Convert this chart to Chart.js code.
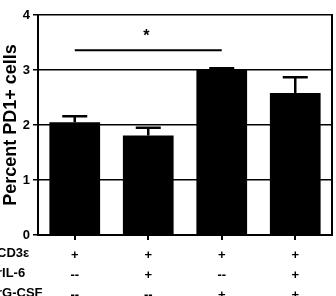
<!DOCTYPE html>
<html>
<head>
<meta charset="utf-8">
<script src="https://cdn.jsdelivr.net/npm/chart.js@4"></script>
<style>
  html, body { margin: 0; padding: 0; background: #fff; }
</style>
</head>
<body>
<canvas id="pd1Chart" width="336" height="296"></canvas>
<script>
const groups = ['A', 'B', 'C', 'D'];
const percentPD1 = [2.05, 1.81, 3.0, 2.58];
const semPD1 = [0.11, 0.14, 0.03, 0.29];
const rowNames = ['CD3\u03b5', 'rIL-6', 'rG-CSF'];
const cd3Row = ['+', '+', '+', '+'];
const il6Row = ['--', '+', '--', '+'];
const gcsfRow = ['--', '--', '+', '+'];
const yTicks = [0, 1, 2, 3, 4];
const sigPair = [0, 2];
const sigLevel = 3.36;
const sigMark = '*';

const FONT = 'Liberation Sans, Arial, sans-serif';
const rows = [cd3Row, il6Row, gcsfRow];

const extrasPlugin = {
    id: 'extras',
    afterDatasetsDraw(chart) {
        const ctx = chart.ctx;
        const x = chart.scales.x;
        const y = chart.scales.y;
        const area = chart.chartArea;
        ctx.save();
        ctx.strokeStyle = '#000';
        ctx.fillStyle = '#000';
        // error bars
        ctx.lineWidth = 2.5;
        percentPD1.forEach((v, i) => {
            const cx = x.getPixelForValue(i);
            const yTop = y.getPixelForValue(v + semPD1[i]);
            const yBar = y.getPixelForValue(v);
            ctx.beginPath();
            ctx.moveTo(cx, yBar);
            ctx.lineTo(cx, yTop);
            ctx.moveTo(cx - 12.5, yTop);
            ctx.lineTo(cx + 12.5, yTop);
            ctx.stroke();
        });
        // right border
        ctx.lineWidth = 2;
        ctx.beginPath();
        ctx.moveTo(area.right, area.top - 1);
        ctx.lineTo(area.right, area.bottom);
        ctx.stroke();
        // significance line
        const x1 = x.getPixelForValue(sigPair[0]);
        const x2 = x.getPixelForValue(sigPair[1]);
        const sy = y.getPixelForValue(sigLevel);
        ctx.lineWidth = 2;
        ctx.beginPath();
        ctx.moveTo(x1, sy);
        ctx.lineTo(x2, sy);
        ctx.stroke();
        ctx.font = 'bold 16px ' + FONT;
        ctx.textAlign = 'center';
        ctx.textBaseline = 'middle';
        ctx.fillText(sigMark, (x1 + x2) / 2 - 2, sy - 14);
        // row names
        ctx.font = 'bold 13px ' + FONT;
        ctx.textAlign = 'left';
        rowNames.forEach((name, r) => {
            ctx.fillText(name, -3, area.bottom + 18 + r * 20);
        });
        ctx.restore();
    }
};

new Chart(document.getElementById('pd1Chart'), {
    type: 'bar',
    data: {
        labels: groups,
        datasets: [{
            data: percentPD1,
            backgroundColor: '#000',
            borderWidth: 0,
            categoryPercentage: 1,
            barPercentage: 0.69
        }]
    },
    options: {
        responsive: false,
        animation: false,
        layout: { padding: { top: 15, right: 4, left: 0, bottom: 0 } },
        plugins: { legend: { display: false }, tooltip: { enabled: false } },
        scales: {
            x: {
                grid: { offset: false, drawOnChartArea: false, drawTicks: true, tickLength: 5, color: '#000', lineWidth: 2 },
                border: { color: '#000', width: 2 },
                ticks: {
                    padding: 5,
                    color: '#000',
                    font: { family: FONT, size: 13, weight: 'bold', lineHeight: 20 / 13 },
                    callback: (val, i) => rows.map(r => r[i])
                },
                afterFit: (scale) => { scale.height = 61; }
            },
            y: {
                min: 0,
                max: 4,
                afterBuildTicks: (scale) => { scale.ticks = yTicks.map(v => ({ value: v })); },
                grid: { color: '#000', lineWidth: 1.5, tickLength: 5 },
                border: { color: '#000', width: 2 },
                ticks: {
                    padding: 3,
                    color: '#000',
                    font: { family: FONT, size: 13, weight: 'bold' }
                },
                title: {
                    display: true,
                    text: 'Percent PD1+ cells',
                    color: '#000',
                    padding: { top: 0, bottom: 0 },
                    font: { family: FONT, size: 18, weight: 'bold' }
                },
                afterFit: (scale) => { scale.width = 38; }
            }
        }
    },
    plugins: [extrasPlugin]
});
</script>
</body>
</html>
